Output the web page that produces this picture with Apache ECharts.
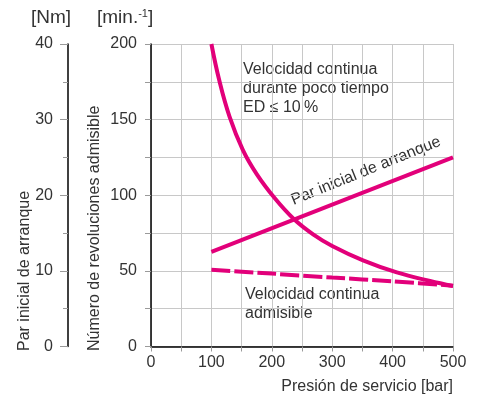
<!DOCTYPE html>
<html>
<head>
<meta charset="utf-8">
<script src="https://cdn.jsdelivr.net/npm/echarts@6/dist/echarts.min.js"></script>
<style>
html,body{margin:0;padding:0;background:#fff;}
#c{width:478px;height:396px;}
</style>
</head>
<body>
<div id="c"></div>
<script>
// Data
const shortSpeedP   = [100, 113, 130, 152, 175, 205, 236, 269, 300, 351, 407, 462, 500];
const shortSpeedV   = [200, 176, 152, 130, 114, 98, 84.5, 74, 66.5, 57, 49, 43.3, 40];
const torqueP       = [100, 500];
const torqueNm      = [12.5, 25];
const contSpeedP    = [100, 200, 300, 400, 500];
const contSpeedV    = [50.7, 48.2, 45.6, 43.1, 40.2];
const xTicks        = [0, 100, 200, 300, 400, 500];
const nmTicks       = [0, 10, 20, 30, 40];
const rpmTicks      = [0, 50, 100, 150, 200];

const FONT = "'Liberation Sans', Arial, sans-serif";
const TXT = '#333333';
const MAG = '#e2007a';
const GRID = '#c8c8c8';
const TICK = '#9a9a9a';

const zip = (a, b) => a.map((v, i) => [v, b[i]]);

const chart = echarts.init(document.getElementById('c'), null, {renderer: 'canvas'});
chart.setOption({
  animation: false,
  backgroundColor: '#ffffff',
  grid: {left: 151, right: 25, top: 44, bottom: 49.5, containLabel: false},
  xAxis: {
    type: 'value', min: 0, max: 500, interval: 50,
    axisLine: {show: true, onZero: false, lineStyle: {color: '#000', width: 1.5}},
    axisTick: {show: true, length: 5, lineStyle: {color: TICK}},
    axisLabel: {
      color: TXT, fontFamily: FONT, fontSize: 16, margin: 8,
      formatter: v => xTicks.indexOf(v) >= 0 ? String(v) : ''
    },
    splitLine: {show: true, lineStyle: {color: GRID, width: 1}}
  },
  yAxis: [
    {
      type: 'value', min: 0, max: 40, interval: 10, position: 'left', offset: 83,
      axisLine: {show: true, onZero: false, lineStyle: {color: '#000', width: 1.5}},
      axisTick: {show: true, length: 8, lineStyle: {color: TICK}},
      minorTick: {show: true, splitNumber: 2, length: 5, lineStyle: {color: TICK}},
      axisLabel: {
        color: TXT, fontFamily: FONT, fontSize: 16, margin: 15,
        formatter: v => nmTicks.indexOf(v) >= 0 ? String(v) : ''
      },
      splitLine: {show: false}
    },
    {
      type: 'value', min: 0, max: 200, interval: 25, position: 'left',
      axisLine: {show: true, onZero: false, lineStyle: {color: '#000', width: 1.5}},
      axisTick: {show: true, length: 6, lineStyle: {color: TICK}},
      axisLabel: {
        color: TXT, fontFamily: FONT, fontSize: 16, margin: 14,
        formatter: v => rpmTicks.indexOf(v) >= 0 ? String(v) : ''
      },
      splitLine: {show: true, lineStyle: {color: GRID, width: 1}}
    }
  ],
  series: [
    {
      type: 'line', yAxisIndex: 1, smooth: 0.4, showSymbol: false,
      data: zip(shortSpeedP, shortSpeedV),
      lineStyle: {color: MAG, width: 4}
    },
    {
      type: 'line', yAxisIndex: 0, showSymbol: false,
      data: zip(torqueP, torqueNm),
      lineStyle: {color: MAG, width: 4}
    },
    {
      type: 'line', yAxisIndex: 1, smooth: 0.3, showSymbol: false,
      data: zip(contSpeedP, contSpeedV),
      lineStyle: {color: MAG, width: 4, type: [19, 4], cap: 'butt'}
    }
  ],
  graphic: [
    {type: 'text', left: 31, top: 8, style: {text: '[Nm]', fill: TXT, font: '19px ' + FONT}},
    {type: 'text', left: 97, top: 8, style: {
      text: '{a|[min.}{s|-1}{a|]}', fill: TXT,
      rich: {a: {fontSize: 19, fontFamily: FONT, color: TXT}, s: {fontSize: 11, fontFamily: FONT, color: TXT, verticalAlign: 'top', padding: [0,0,9,0]}}
    }},
    {type: 'text', x: 25, y: 351, rotation: Math.PI / 2, style: {
      text: 'Par inicial de arranque', fill: TXT, font: '16px ' + FONT, textAlign: 'left', textVerticalAlign: 'middle'}},
    {type: 'text', x: 95, y: 351, rotation: Math.PI / 2, style: {
      text: 'Número de revoluciones admisible', fill: TXT, font: '16px ' + FONT, textAlign: 'left', textVerticalAlign: 'middle'}},
    {type: 'text', x: 453, y: 387, style: {
      text: 'Presión de servicio [bar]', fill: TXT, font: '16px ' + FONT, textAlign: 'right', textVerticalAlign: 'middle'}},
    {type: 'text', x: 243, y: 60, style: {
      text: 'Velocidad continua\ndurante poco tiempo\nED ≤ 10\u2009%', fill: TXT, font: '16px ' + FONT, lineHeight: 19, textAlign: 'left', textVerticalAlign: 'top'}},
    {type: 'text', x: 366, y: 171, rotation: 22 * Math.PI / 180, style: {
      text: 'Par inicial de arranque', fill: TXT, font: '16px ' + FONT, textAlign: 'center', textVerticalAlign: 'middle'}},
    {type: 'text', x: 245, y: 285, style: {
      text: 'Velocidad continua\nadmisible', fill: TXT, font: '16px ' + FONT, lineHeight: 19, textAlign: 'left', textVerticalAlign: 'top'}}
  ]
});
</script>
</body>
</html>
